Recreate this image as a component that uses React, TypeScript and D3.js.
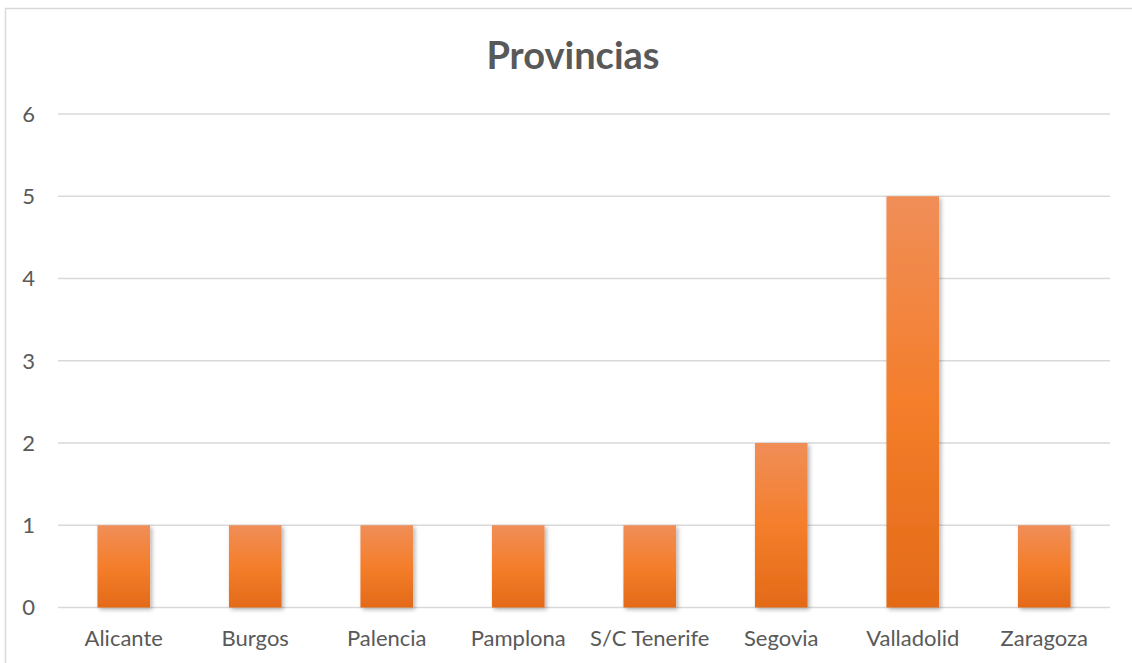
import React from "react";
import * as d3 from "d3";

const provinces = [
  "Alicante",
  "Burgos",
  "Palencia",
  "Pamplona",
  "S/C Tenerife",
  "Segovia",
  "Valladolid",
  "Zaragoza",
];
const counts = [1, 1, 1, 1, 1, 2, 5, 1];
const yTicks = [0, 1, 2, 3, 4, 5, 6];
const chartTitle = "Provincias";

export default function App() {
  const width = 1132;
  const height = 663;
  const marginLeft = 58;
  const marginRight = 22;
  const marginTop = 114;
  const plotBottom = 607.5;
  const font = "Lato, 'Open Sans', sans-serif";

  const x = d3
    .scaleBand()
    .domain(provinces)
    .range([marginLeft, width - marginRight])
    .paddingInner(0.6)
    .paddingOuter(0.3);

  const y = d3.scaleLinear().domain([0, 6]).range([plotBottom, marginTop]);

  return (
    <svg
      width={width}
      height={height}
      style={{ position: "absolute", left: 0, top: 0, background: "#fff" }}
    >
      <defs>
        <linearGradient id="barFill" x1="0" y1="0" x2="0" y2="1">
          <stop offset="0%" stopColor="#F08E58" />
          <stop offset="50%" stopColor="#F47E2B" />
          <stop offset="100%" stopColor="#E36A18" />
        </linearGradient>
        <filter id="shadow" x="-20%" y="-5%" width="150%" height="115%">
          <feDropShadow dx="2" dy="2" stdDeviation="2" floodColor="#000" floodOpacity="0.3" />
        </filter>
      </defs>

      {/* chart frame */}
      <rect x={5.5} y={8.5} width={width + 10} height={height + 10} fill="none" stroke="#d9d9d9" strokeWidth={1.5} />

      <text
        x={573}
        y={69}
        textAnchor="middle"
        fontFamily={font}
        fontWeight="bold"
        fontSize={38}
        fill="#595959"
      >
        {chartTitle}
      </text>

      {/* gridlines + y labels */}
      {yTicks.map((t) => (
        <g key={t}>
          <line
            x1={marginLeft}
            x2={width - marginRight}
            y1={y(t)}
            y2={y(t)}
            stroke="#d9d9d9"
            strokeWidth={1.5}
          />
          <text
            x={35}
            y={y(t)}
            dy="0.36em"
            textAnchor="end"
            fontFamily={font}
            fontSize={22}
            fill="#595959"
          >
            {t}
          </text>
        </g>
      ))}

      {/* bars */}
      <g filter="url(#shadow)">
        {provinces.map((p, i) => (
          <rect
            key={p}
            x={x(p)}
            y={y(counts[i])}
            width={x.bandwidth()}
            height={y(0) - y(counts[i])}
            fill="url(#barFill)"
          />
        ))}
      </g>

      {/* category labels */}
      {provinces.map((p) => (
        <text
          key={p}
          x={(x(p) ?? 0) + x.bandwidth() / 2}
          y={646}
          textAnchor="middle"
          fontFamily={font}
          fontSize={22}
          fill="#595959"
        >
          {p}
        </text>
      ))}
    </svg>
  );
}
